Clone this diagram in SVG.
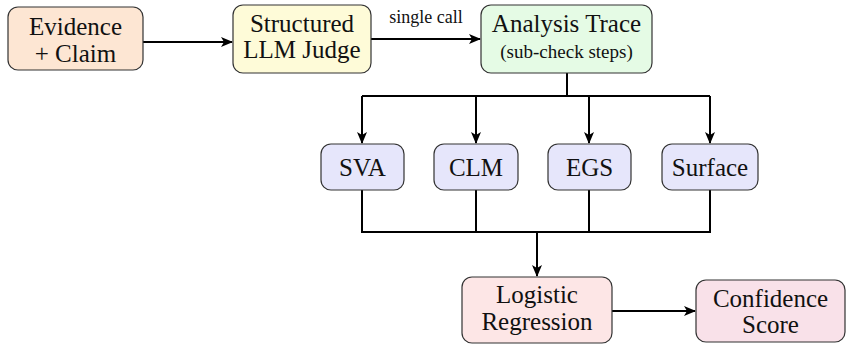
<svg xmlns="http://www.w3.org/2000/svg" width="847" height="345" viewBox="0 0 847 345" font-family="'Liberation Serif', 'DejaVu Serif', serif">
<style>
.box{stroke:#333;stroke-width:1.2}
.t{font-family:'Liberation Serif','DejaVu Serif',serif;font-size:25px;fill:#111;text-anchor:middle}
.s{font-family:'Liberation Serif','DejaVu Serif',serif;font-size:19px;fill:#111;text-anchor:middle}
.l{font-family:'Liberation Serif','DejaVu Serif',serif;font-size:18px;fill:#111;text-anchor:middle}
.c{fill:none;stroke:#000;stroke-width:2}
</style>
<defs>
<marker id="ah" viewBox="0 0 12 10" refX="11" refY="5" markerWidth="12" markerHeight="10" markerUnits="userSpaceOnUse" orient="auto">
<path d="M0,0 L12,5 L0,10 L3,5 Z" fill="#000"/>
</marker>
</defs>
<rect width="847" height="345" fill="#fff"/>
<g id="connectors">
<path class="c" d="M143,42 H232" marker-end="url(#ah)"/>
<path class="c" d="M371,39 H480" marker-end="url(#ah)"/>
<text class="l" x="426" y="23">single call</text>
<path class="c" d="M567,73 V96"/>
<path class="c" d="M362,96 H710"/>
<path class="c" d="M362,96 V143" marker-end="url(#ah)"/>
<path class="c" d="M476,96 V143" marker-end="url(#ah)"/>
<path class="c" d="M589,96 V143" marker-end="url(#ah)"/>
<path class="c" d="M710,96 V143" marker-end="url(#ah)"/>
<path class="c" d="M362,190 V232 H710 V190"/>
<path class="c" d="M476,190 V232"/>
<path class="c" d="M589,190 V232"/>
<path class="c" d="M537,232 V276" marker-end="url(#ah)"/>
<path class="c" d="M612,311 H695" marker-end="url(#ah)"/>
</g>
<g id="evidence">
<rect class="box" x="8" y="7" width="135" height="63" rx="10" fill="#fde6d3"/>
<text class="t" x="75.5" y="35">Evidence</text>
<text class="t" x="75.5" y="62">+ Claim</text>
</g>
<g id="judge">
<rect class="box" x="233" y="5" width="138" height="68" rx="10" fill="#fefbd8"/>
<text class="t" x="302" y="32">Structured</text>
<text class="t" x="302" y="58">LLM Judge</text>
</g>
<g id="trace">
<rect class="box" x="481" y="5" width="171" height="68" rx="10" fill="#e5fbe5"/>
<text class="t" x="566.5" y="32">Analysis Trace</text>
<text class="s" x="566.5" y="58">(sub-check steps)</text>
</g>
<g id="sva">
<rect class="box" x="321" y="144" width="83" height="46" rx="10" fill="#e6e6fb"/>
<text class="t" x="362.5" y="176">SVA</text>
</g>
<g id="clm">
<rect class="box" x="434" y="144" width="84" height="46" rx="10" fill="#e6e6fb"/>
<text class="t" x="476" y="176">CLM</text>
</g>
<g id="egs">
<rect class="box" x="548" y="144" width="83" height="46" rx="10" fill="#e6e6fb"/>
<text class="t" x="589.5" y="176">EGS</text>
</g>
<g id="surface">
<rect class="box" x="662" y="144" width="96" height="46" rx="10" fill="#e6e6fb"/>
<text class="t" x="710" y="176">Surface</text>
</g>
<g id="logistic">
<rect class="box" x="462" y="277" width="150" height="66" rx="10" fill="#fde6e6"/>
<text class="t" x="537" y="303">Logistic</text>
<text class="t" x="537" y="330">Regression</text>
</g>
<g id="confidence">
<rect class="box" x="696" y="280" width="149" height="62" rx="10" fill="#f9e1e9"/>
<text class="t" x="770.5" y="307">Confidence</text>
<text class="t" x="770.5" y="333">Score</text>
</g>
</svg>
